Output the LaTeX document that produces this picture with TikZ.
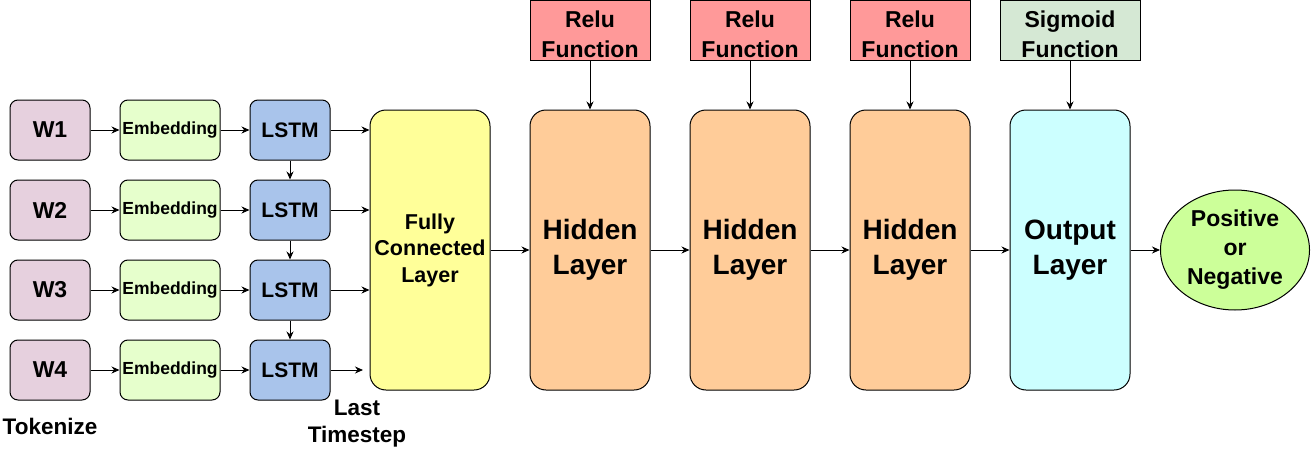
\documentclass[tikz,border=0pt]{standalone}
\usepackage{fontspec}
\setmainfont{Liberation Sans}
\usetikzlibrary{shapes,arrows.meta}

\definecolor{wcol}{HTML}{E6D0DE}
\definecolor{embcol}{HTML}{E6FFCC}
\definecolor{lstmcol}{HTML}{A9C4EB}
\definecolor{fccol}{HTML}{FFFF99}
\definecolor{hidcol}{HTML}{FFCC99}
\definecolor{outcol}{HTML}{CCFFFF}
\definecolor{relucol}{HTML}{FF9999}
\definecolor{sigcol}{HTML}{D5E8D4}
\definecolor{rescol}{HTML}{CCFF99}

\begin{document}
\begin{tikzpicture}[x=1pt, y=-1pt, line width=1pt]

% Define box, layer and function styles
\tikzstyle{small} =[draw, rounded corners=8pt, minimum width=80pt,
                    minimum height=60pt, inner sep=0pt,
                    font=\fontsize{22}{24}\selectfont\bfseries]
\tikzstyle{layer} =[draw, rounded corners=16pt, minimum width=120pt,
                    minimum height=280pt, inner sep=0pt, align=center,
                    font=\fontsize{28}{35}\selectfont\bfseries]
\tikzstyle{func}  =[draw, minimum width=120pt, minimum height=60pt,
                    inner sep=0pt, align=center,
                    font=\fontsize{23}{30}\selectfont\bfseries]
\tikzstyle{arr}   =[-{Stealth[length=8pt, width=7pt]}]

\useasboundingbox (0,0) rectangle (1311,452);

% input rows
\foreach \a in {1,...,4}{
  \node[small, fill=wcol, font=\fontsize{23}{24}\selectfont\bfseries] (w\a) at (50, 50+80*\a) {W\a};
  \node[small, fill=embcol, minimum width=100pt,
        font=\fontsize{17.5}{20}\selectfont\bfseries] (emb\a) at (170, 50+80*\a) {Embedding};
  \node[small, fill=lstmcol, font=\fontsize{21}{24}\selectfont\bfseries] (lstm\a) at (290, 50+80*\a) {LSTM};
  \draw[arr] (w\a) -- (emb\a);
  \draw[arr] (emb\a) -- (lstm\a);
}
\foreach \a/\b in {1/2,2/3,3/4}{
  \draw[arr] (lstm\a) -- (lstm\b);
}

\node[layer, fill=fccol, font=\fontsize{21.5}{26.5}\selectfont\bfseries] (fc) at (430,250) {Fully\\Connected\\Layer};
\foreach \a in {1,2,3}{
  \draw[arr] (lstm\a) -- (lstm\a -| fc.west);
}
\coordinate (last) at (363,370);
\draw[arr] (lstm4) -- (last);

% hidden layers with their activations
\foreach \a/\x in {1/590,2/750,3/910}{
  \node[layer, fill=hidcol] (hid\a) at (\x,250) {Hidden\\Layer};
  \node[func, fill=relucol] (relu\a) at (\x,30.5) {\rule{0pt}{25pt}Relu\\Function};
  \draw[arr] (relu\a) -- (hid\a);
}

\node[layer, fill=outcol] (out) at (1070,250) {Output\\Layer};
\node[func, fill=sigcol, minimum width=140pt] (sig) at (1070,30.5) {\rule{0pt}{25pt}Sigmoid\\Function};
\draw[arr] (sig) -- (out);

\node[ellipse, draw, fill=rescol, minimum width=149pt, minimum height=120pt,
      inner sep=0pt, align=center, font=\fontsize{23}{29}\selectfont\bfseries] (res) at (1235,250) {Positive\\or\\Negative};

\draw[arr] (fc) -- (hid1);
\draw[arr] (hid1) -- (hid2);
\draw[arr] (hid2) -- (hid3);
\draw[arr] (hid3) -- (out);
\draw[arr] (out) -- (res);

% captions
\node[anchor=base, font=\fontsize{22.5}{24}\selectfont\bfseries] (tok) at (50,434) {Tokenize};
\node[align=center, font=\fontsize{22.5}{27}\selectfont\bfseries] (lts) at (357,424) {Last\\Timestep};

\end{tikzpicture}
\end{document}
